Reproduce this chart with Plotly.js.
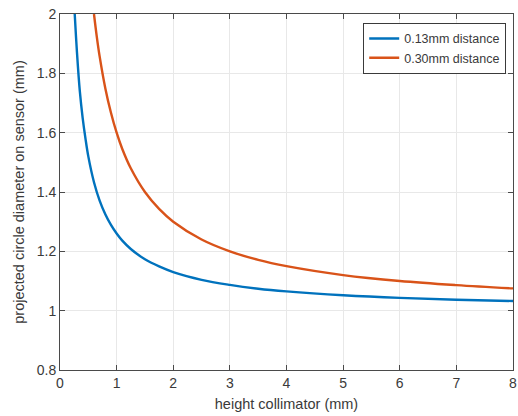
<!DOCTYPE html>
<html>
<head>
<meta charset="utf-8">
<script src="https://cdn.plot.ly/plotly-3.0.1.min.js"></script>
<style>html,body{margin:0;padding:0;background:#fff;}#chart{width:518px;height:416px;}</style>
</head>
<body>
<div id="chart"></div>
<script>
const heightA = [0.26, 0.3, 0.35, 0.4, 0.45, 0.5, 0.6, 0.7, 0.8, 0.9, 1.0, 1.1, 1.25, 1.5, 1.75, 2.0, 2.5, 3.0, 3.5, 4.0, 5.0, 6.0, 7.0, 8.0];
const diamA   = [2.0, 1.87, 1.74, 1.65, 1.58, 1.52, 1.433, 1.371, 1.325, 1.289, 1.26, 1.236, 1.208, 1.173, 1.149, 1.13, 1.104, 1.087, 1.074, 1.065, 1.052, 1.043, 1.037, 1.0325];
const heightB = [0.6, 0.65, 0.7, 0.8, 0.9, 1.0, 1.1, 1.25, 1.5, 1.75, 2.0, 2.5, 3.0, 3.5, 4.0, 5.0, 6.0, 7.0, 8.0];
const diamB   = [2.0, 1.923, 1.857, 1.75, 1.667, 1.6, 1.545, 1.48, 1.4, 1.343, 1.3, 1.24, 1.2, 1.171, 1.15, 1.12, 1.1, 1.086, 1.075];
const seriesNames = ['0.13mm distance', '0.30mm distance'];

const FONT = 'Liberation Sans, Arial, sans-serif';
const TXT = '#3a3a3a';
const axisCommon = {
  showline: true, linecolor: '#4a4a4a', linewidth: 1, mirror: 'ticks',
  ticks: 'inside', ticklen: 5, tickcolor: '#4a4a4a',
  showgrid: true, gridcolor: '#e8e8e8', gridwidth: 1, zeroline: false,
  tickfont: {family: FONT, size: 14, color: TXT}
};

const data = [
  {x: heightA, y: diamA, name: seriesNames[0], mode: 'lines', line: {color: '#0072BD', width: 2.4, shape: 'spline', smoothing: 1}},
  {x: heightB, y: diamB, name: seriesNames[1], mode: 'lines', line: {color: '#D95319', width: 2.4, shape: 'spline', smoothing: 1}}
];

const layout = {
  width: 518, height: 416,
  margin: {l: 60, r: 5, t: 14, b: 46},
  paper_bgcolor: '#fff', plot_bgcolor: '#fff',
  showlegend: true,
  legend: {x: 0.985, y: 0.975, xanchor: 'right', yanchor: 'top', bgcolor: '#fff',
    bordercolor: '#3a3a3a', borderwidth: 1,
    font: {family: FONT, size: 12.5, color: TXT},
    tracegroupgap: 0},
  xaxis: Object.assign({}, axisCommon, {range: [0, 8], dtick: 1,
    title: {text: 'height collimator (mm)', standoff: 9, font: {family: FONT, size: 14.5, color: TXT}}}),
  yaxis: Object.assign({}, axisCommon, {range: [0.8, 2], dtick: 0.2,
    title: {text: 'projected circle diameter on sensor (mm)', standoff: 8, font: {family: FONT, size: 14.5, color: TXT}}})
};

Plotly.newPlot('chart', data, layout, {displayModeBar: false, staticPlot: true});
</script>
</body>
</html>
